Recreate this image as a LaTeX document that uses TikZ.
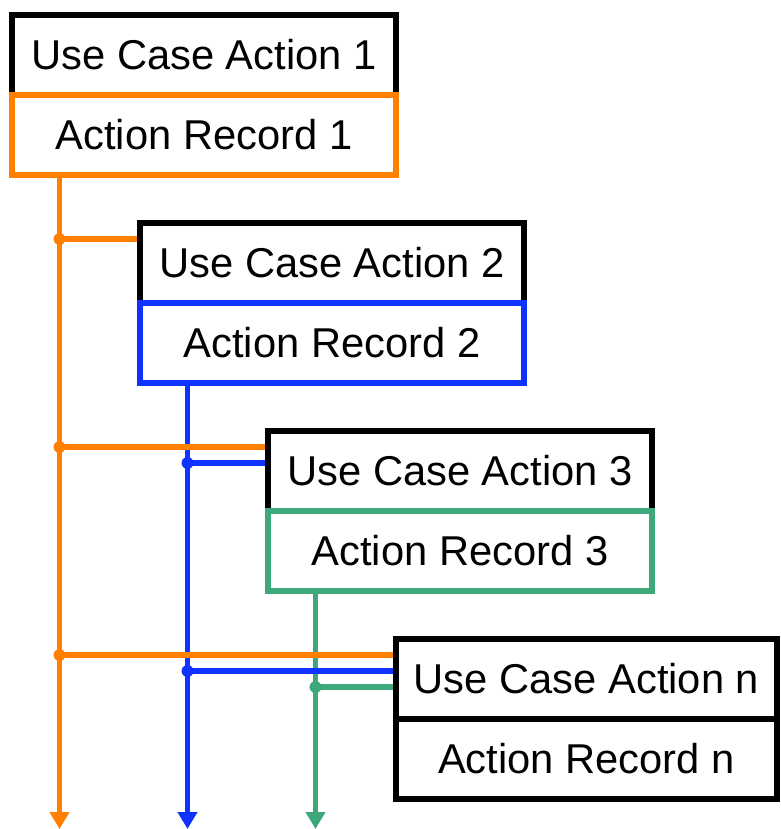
\documentclass[tikz,border=0pt]{standalone}
\usepackage{fontspec}
\setmainfont{Liberation Sans}
\usetikzlibrary{arrows.meta,backgrounds}
\definecolor{corange}{RGB}{255,127,0}
\definecolor{cblue}{RGB}{16,50,255}
\definecolor{cgreen}{RGB}{63,168,123}
\tikzset{
  ucbox/.style={draw=black, line width=6pt, fill=white, minimum width=384pt, minimum height=80pt, inner sep=0pt, font=\fontsize{41.7}{50}\selectfont},
  recbox/.style={ucbox, draw=#1},
  conn/.style={draw=#1, line width=5.5pt},
  flow/.style={conn=#1, -{Triangle[width=19pt,length=17pt]}},
  jdot/.style={fill=#1, circle, inner sep=0pt, minimum size=12pt},
}
\begin{document}
\begin{tikzpicture}[x=1pt,y=-1pt]
\useasboundingbox (0,0) rectangle (780,829);
% boxes
\node[ucbox] (u1) at (204,55) {Use Case Action 1};
\node[recbox=corange] (r1) at (204,135) {Action Record 1};
\node[ucbox] (u2) at (332,263) {Use Case Action 2};
\node[recbox=cblue] (r2) at (332,343) {Action Record 2};
\node[ucbox] (u3) at (460,471) {Use Case Action 3};
\node[recbox=cgreen] (r3) at (460,551) {Action Record 3};
\node[ucbox, minimum width=381pt] (u4) at (586.5,679) {Use Case Action n};
\node[ucbox, minimum width=381pt] (r4) at (586.5,759) {Action Record n};
% line ends and junctions
\coordinate (o1) at (59.5,829);
\coordinate (o2) at (187.5,829);
\coordinate (o3) at (315.5,829);
\coordinate (j12) at (59.5,239);
\coordinate (j13) at (59.5,447);
\coordinate (j14) at (59.5,655);
\coordinate (j23) at (187.5,463);
\coordinate (j24) at (187.5,671);
\coordinate (j34) at (315.5,687);
\begin{scope}[on background layer]
% verticals
\draw[flow=corange] (r1.south -| o1) -- (o1);
\draw[flow=cblue] (r2.south -| o2) -- (o2);
\draw[flow=cgreen] (r3.south -| o3) -- (o3);
% horizontals
\draw[conn=corange] (j12) -- (u2.west |- j12);
\draw[conn=corange] (j13) -- (u3.west |- j13);
\draw[conn=corange] (j14) -- (u4.west |- j14);
\draw[conn=cblue] (j23) -- (u3.west |- j23);
\draw[conn=cblue] (j24) -- (u4.west |- j24);
\draw[conn=cgreen] (j34) -- (u4.west |- j34);
% dots
\node[jdot=corange] (d12) at (j12) {};
\node[jdot=corange] (d13) at (j13) {};
\node[jdot=corange] (d14) at (j14) {};
\node[jdot=cblue] (d23) at (j23) {};
\node[jdot=cblue] (d24) at (j24) {};
\node[jdot=cgreen] (d34) at (j34) {};
\end{scope}
\end{tikzpicture}
\end{document}
